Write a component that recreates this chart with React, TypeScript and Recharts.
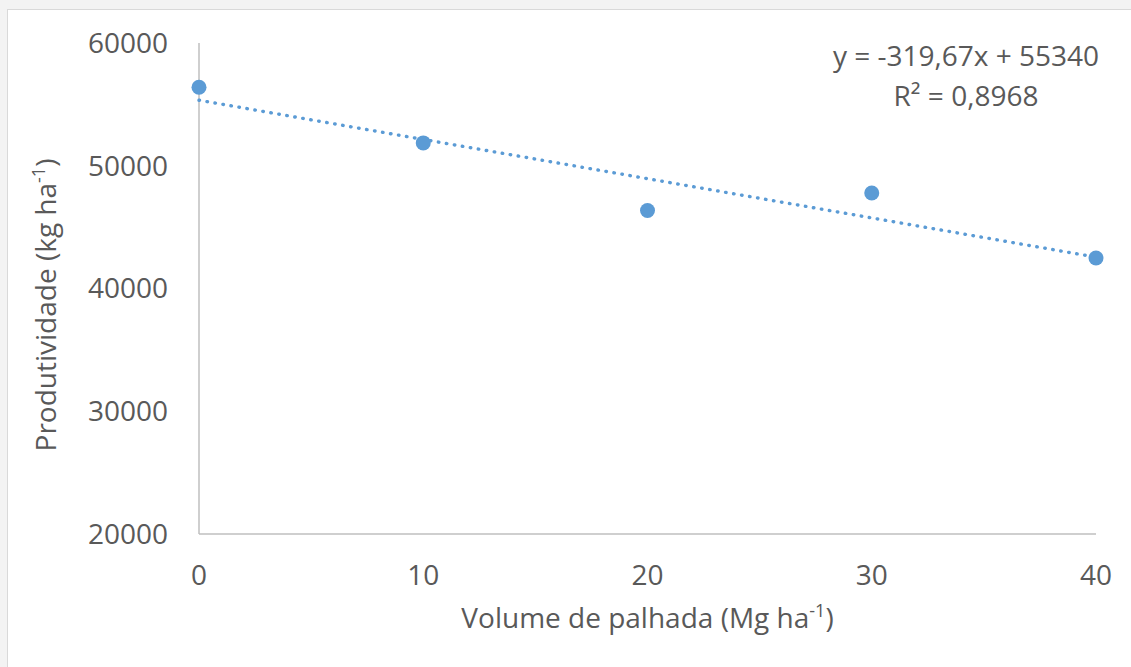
import React from 'react';
import { ScatterChart, Scatter, XAxis, YAxis, Label } from 'recharts';

// Volume de palhada (Mg ha-1)
const palhada = [0, 10, 20, 30, 40];
// Produtividade (kg ha-1)
const produtividade = [56390, 51860, 46360, 47780, 42480];

const xTicks = [0, 10, 20, 30, 40];
const yTicks = [20000, 30000, 40000, 50000, 60000];

// linear trendline shown on the chart
const slope = -319.67;
const intercept = 55340;
const trendX = [0, 40];

const points = palhada.map((x, i) => ({ x, y: produtividade[i] }));
const trend = trendX.map((x) => ({ x, y: intercept + slope * x }));

const BLUE = '#5b9bd5';
const TEXT = '#595959';
const AXIS = '#bfbfbf';
const FONT = '"Open Sans", sans-serif';

const Dot = (props: any) => <circle cx={props.cx} cy={props.cy} r={7.5} fill={BLUE} />;

const XTitle = ({ viewBox }: any) => {
  const cx = viewBox.x + viewBox.width / 2;
  return (
    <text x={cx} y={viewBox.y + 94} textAnchor="middle" fill={TEXT} fontSize={28} fontFamily={FONT}>
      Volume de palhada (Mg ha<tspan dy={-11} fontSize={18}>-1</tspan>
      <tspan dy={11}>)</tspan>
    </text>
  );
};

const YTitle = () => {
  const x = 56;
  const y = 305;
  return (
    <text x={x} y={y} transform={`rotate(-90 ${x} ${y})`} textAnchor="middle" fill={TEXT} fontSize={28} fontFamily={FONT}>
      Produtividade (kg ha<tspan dy={-11} fontSize={18}>-1</tspan>
      <tspan dy={11}>)</tspan>
    </text>
  );
};

export default function App() {
  return (
    <div style={{ position: 'absolute', left: 0, top: 0, width: 1131, height: 667, background: '#f3f3f3', overflow: 'hidden' }}>
      <div style={{ position: 'absolute', left: 7, top: 9, width: 1140, height: 680, background: '#fff', border: '1.5px solid #d9d9d9' }} />
      <div style={{ position: 'absolute', left: 0, top: 0 }}>
        <ScatterChart width={1131} height={667} margin={{ top: 43, right: 35, bottom: 73, left: 99 }}>
          <XAxis
            type="number"
            dataKey="x"
            domain={[0, 40]}
            ticks={xTicks}
            height={60}
            tickLine={false}
            tickSize={0}
            tickMargin={31}
            axisLine={{ stroke: AXIS, strokeWidth: 1.5 }}
            tick={{ fill: TEXT, fontSize: 28, fontFamily: FONT }}
          >
            <Label content={<XTitle />} />
          </XAxis>
          <YAxis
            type="number"
            dataKey="y"
            domain={[20000, 60000]}
            ticks={yTicks}
            width={100}
            tickLine={false}
            tickSize={0}
            tickMargin={31}
            axisLine={{ stroke: AXIS, strokeWidth: 1.5 }}
            tick={{ fill: TEXT, fontSize: 28, fontFamily: FONT }}
          >
            <Label content={<YTitle />} />
          </YAxis>
          <Scatter
            data={trend}
            isAnimationActive={false}
            line={{ stroke: BLUE, strokeWidth: 3.4, strokeDasharray: '0.5 7.6', strokeLinecap: 'round' }}
            shape={() => <g />}
          />
          <Scatter data={points} isAnimationActive={false} shape={<Dot />} />
        </ScatterChart>
      </div>
      <svg width={1131} height={667} style={{ position: 'absolute', left: 0, top: 0, pointerEvents: 'none' }}>
        <text x={966} y={66} textAnchor="middle" fill={TEXT} fontSize={28} fontFamily={FONT}>
          y = -319,67x + 55340
        </text>
        <text x={966} y={106} textAnchor="middle" fill={TEXT} fontSize={28} fontFamily={FONT}>
          R² = 0,8968
        </text>
      </svg>
    </div>
  );
}
